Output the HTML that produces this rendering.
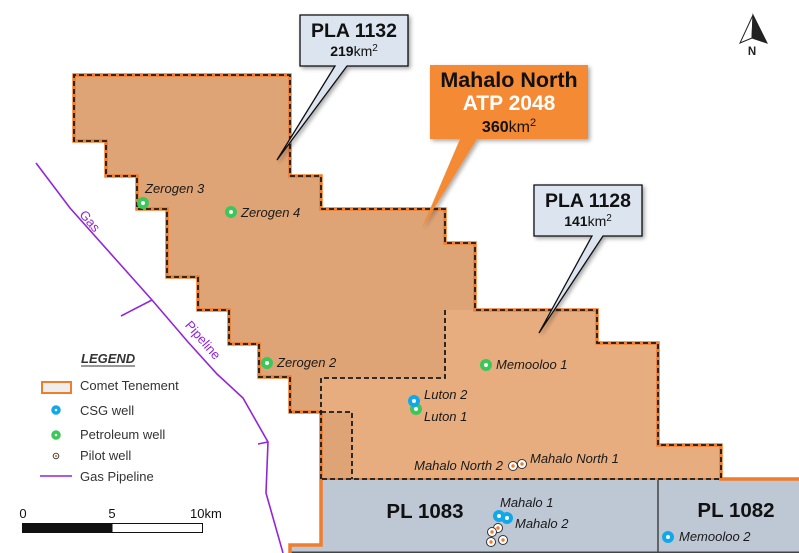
<!DOCTYPE html>
<html>
<head>
<meta charset="utf-8">
<style>
html,body{margin:0;padding:0;background:#fff;}
svg{display:block;}
text{font-family:"Liberation Sans",Arial,sans-serif;}
.wl{font-size:13px;font-style:italic;fill:#1a1a1a;}
.lg{font-size:13px;fill:#333;}
</style>
</head>
<body>
<svg width="799" height="553" viewBox="0 0 799 553" xmlns="http://www.w3.org/2000/svg">
<defs>
<filter id="sh" x="-20%" y="-20%" width="150%" height="150%">
<feGaussianBlur in="SourceAlpha" stdDeviation="2"/>
<feOffset dx="2" dy="2" result="o"/>
<feComponentTransfer><feFuncA type="linear" slope="0.35"/></feComponentTransfer>
<feMerge><feMergeNode/><feMergeNode in="SourceGraphic"/></feMerge>
</filter>
</defs>
<rect width="799" height="553" fill="#fff"/>

<!-- gray PL areas -->
<rect x="321" y="479" width="478" height="74" fill="#bec7d4"/>
<rect x="290" y="545" width="32" height="8" fill="#bec7d4"/>
<line x1="658" y1="479" x2="658" y2="553" stroke="#444" stroke-width="1.5"/>
<line x1="290" y1="552.3" x2="799" y2="552.3" stroke="#444" stroke-width="1.5"/>

<!-- light region PLA 1128 -->
<polygon points="321,378 445,378 445,310 597,310 597,343 658,343 658,445 721,445 721,479 352,479 352,412 321,412" fill="#e8ad7f"/>
<!-- dark region PLA 1132 -->
<polygon points="74,75 290,75 290,176 321,176 321,209 445,209 445,243 475,243 475,310 445,310 445,378 321,378 321,412 290,412 290,377 259,377 259,344 229,344 229,310 198,310 198,277 167,277 167,209 137,209 137,176 106,176 106,141 74,141" fill="#dfa476"/>
<rect x="321" y="412" width="31" height="67" fill="#dfa476"/>

<!-- orange outline -->
<path d="M290,553 L290,545 L321,545 L321,412 L290,412 L290,377 L259,377 L259,344 L229,344 L229,310 L198,310 L198,277 L167,277 L167,209 L137,209 L137,176 L106,176 L106,141 L74,141 L74,75 L290,75 L290,176 L321,176 L321,209 L445,209 L445,243 L475,243 L475,310 L597,310 L597,343 L658,343 L658,445 L721,445 L721,479 L799,479" fill="none" stroke="#ef7d2c" stroke-width="3.5" stroke-linejoin="miter"/>
<line x1="321" y1="479" x2="721" y2="479" stroke="#ef7d2c" stroke-width="2"/>

<!-- black dashed boundaries -->
<path d="M321,479 L321,412 L290,412 L290,377 L259,377 L259,344 L229,344 L229,310 L198,310 L198,277 L167,277 L167,209 L137,209 L137,176 L106,176 L106,141 L74,141 L74,75 L290,75 L290,176 L321,176 L321,209 L445,209 L445,243 L475,243 L475,310 L597,310 L597,343 L658,343 L658,445 L721,445 L721,479 L321,479" fill="none" stroke="#1a1a1a" stroke-width="1.8" stroke-dasharray="5,3"/>
<path d="M445,310 L445,378 L321,378 L321,412 M321,412 L352,412 L352,479" fill="none" stroke="#1a1a1a" stroke-width="1.8" stroke-dasharray="5,3"/>

<!-- pipeline -->
<g stroke="#9325d8" stroke-width="1.6" fill="none">
<polyline points="36,163 70,208 152,300 188,342 217,374 243,398 268,442 266,493 283,553"/>
<line x1="152" y1="300" x2="121" y2="316"/>
<line x1="258" y1="444" x2="268" y2="442"/>
</g>
<text transform="translate(90,221) rotate(49)" text-anchor="middle" dominant-baseline="central" font-size="13" fill="#9325d8">Gas</text>
<text transform="translate(203,340) rotate(49)" text-anchor="middle" dominant-baseline="central" font-size="13" fill="#9325d8">Pipeline</text>

<!-- wells: green -->
<g fill="#fff" stroke="#3cc75a" stroke-width="4">
<circle cx="143" cy="203" r="4"/>
<circle cx="231" cy="212" r="4"/>
<circle cx="267" cy="363" r="4"/>
<circle cx="486" cy="365" r="4"/>
<circle cx="416" cy="409" r="4"/>
</g>
<!-- wells: blue -->
<g fill="#fff" stroke="#10a8ea" stroke-width="4">
<circle cx="414" cy="401" r="4"/>
<circle cx="507" cy="518" r="4"/>
<circle cx="499" cy="516" r="4"/>
<circle cx="668" cy="537" r="4"/>
</g>
<!-- pilot wells -->
<g>
<g fill="#fff" stroke="#333" stroke-width="1">
<circle cx="513" cy="466" r="4.5"/>
<circle cx="522" cy="464" r="4.5"/>
<circle cx="498" cy="528" r="4.5"/>
<circle cx="492" cy="532" r="4.5"/>
<circle cx="503" cy="540" r="4.5"/>
<circle cx="491" cy="542" r="4.5"/>
</g>
<g fill="#ef7d2c">
<circle cx="513" cy="466" r="1.7"/>
<circle cx="522" cy="464" r="1.7"/>
<circle cx="498" cy="528" r="1.7"/>
<circle cx="492" cy="532" r="1.7"/>
<circle cx="503" cy="540" r="1.7"/>
<circle cx="491" cy="542" r="1.7"/>
</g>
</g>

<!-- well labels -->
<text class="wl" x="145" y="193">Zerogen 3</text>
<text class="wl" x="241" y="217">Zerogen 4</text>
<text class="wl" x="277" y="367">Zerogen 2</text>
<text class="wl" x="496" y="369">Memooloo 1</text>
<text class="wl" x="424" y="399">Luton 2</text>
<text class="wl" x="424" y="421">Luton 1</text>
<text class="wl" x="503" y="470" text-anchor="end">Mahalo North 2</text>
<text class="wl" x="530" y="463">Mahalo North 1</text>
<text class="wl" x="500" y="507">Mahalo 1</text>
<text class="wl" x="515" y="528">Mahalo 2</text>
<text class="wl" x="679" y="541">Memooloo 2</text>

<text x="425" y="518" text-anchor="middle" font-size="20.5" font-weight="bold" fill="#111">PL 1083</text>
<text x="736" y="517" text-anchor="middle" font-size="20.5" font-weight="bold" fill="#111">PL 1082</text>

<!-- callouts -->
<path d="M300,15 H408 V66 H347 L277,160 L335,66 H300 Z" fill="#dce4f0" stroke="#111" stroke-width="1.3" filter="url(#sh)"/>
<text x="354" y="37" text-anchor="middle" font-size="19.5" font-weight="bold" fill="#111">PLA 1132</text>
<text x="354" y="56" text-anchor="middle" font-size="14" fill="#111"><tspan font-weight="bold">219</tspan>km<tspan font-size="10" dy="-5">2</tspan></text>

<path d="M534,185 H642 V236 H603 L539,333 L592,236 H534 Z" fill="#dce4f0" stroke="#111" stroke-width="1.3" filter="url(#sh)"/>
<text x="588" y="207" text-anchor="middle" font-size="19.5" font-weight="bold" fill="#111">PLA 1128</text>
<text x="588" y="226" text-anchor="middle" font-size="14" fill="#111"><tspan font-weight="bold">141</tspan>km<tspan font-size="10" dy="-5">2</tspan></text>

<path d="M430,65 H588 V139 H477 L422,228 L460,139 H430 Z" fill="#f58a35" filter="url(#sh)"/>
<text x="509" y="87" text-anchor="middle" font-size="21.5" font-weight="bold" fill="#111">Mahalo North</text>
<text x="509" y="110" text-anchor="middle" font-size="21" font-weight="bold" fill="#fff">ATP 2048</text>
<text x="509" y="132" text-anchor="middle" font-size="16" fill="#111"><tspan font-weight="bold">360</tspan>km<tspan font-size="11" dy="-6">2</tspan></text>

<!-- north arrow -->
<polygon points="753,15 740,43 752,38" fill="#fff" stroke="#222" stroke-width="1"/>
<polygon points="753,15 767,43 752,38" fill="#222" stroke="#222" stroke-width="1"/>
<text x="752" y="55" text-anchor="middle" font-size="11.5" font-weight="bold" fill="#222">N</text>

<!-- legend -->
<text x="81" y="363" font-size="13" font-weight="bold" font-style="italic" fill="#333">LEGEND</text>
<line x1="81" y1="366" x2="135" y2="366" stroke="#333" stroke-width="1"/>
<rect x="42" y="382" width="29" height="11" fill="#eeeeee" stroke="#ef7d2c" stroke-width="2"/>
<text class="lg" x="80" y="390">Comet Tenement</text>
<circle cx="56" cy="410" r="3" fill="#fff" stroke="#10a8ea" stroke-width="3.5"/>
<text class="lg" x="80" y="415">CSG well</text>
<circle cx="56" cy="435" r="3" fill="#fff" stroke="#3cc75a" stroke-width="3.5"/>
<text class="lg" x="80" y="439">Petroleum well</text>
<circle cx="56" cy="456" r="2.8" fill="#fff" stroke="#333" stroke-width="0.9"/>
<circle cx="56" cy="456" r="1.1" fill="#ef7d2c"/>
<text class="lg" x="80" y="460">Pilot well</text>
<line x1="40" y1="476" x2="72" y2="476" stroke="#9325d8" stroke-width="1.6"/>
<text class="lg" x="80" y="481">Gas Pipeline</text>

<!-- scale bar -->
<text x="23" y="518" text-anchor="middle" font-size="13" fill="#111">0</text>
<text x="112" y="518" text-anchor="middle" font-size="13" fill="#111">5</text>
<text x="190" y="518" font-size="13" fill="#111">10km</text>
<rect x="22.5" y="523.5" width="180" height="9" fill="#fff" stroke="#111" stroke-width="1"/>
<rect x="22.5" y="523.5" width="90" height="9" fill="#111"/>
</svg>
</body>
</html>
